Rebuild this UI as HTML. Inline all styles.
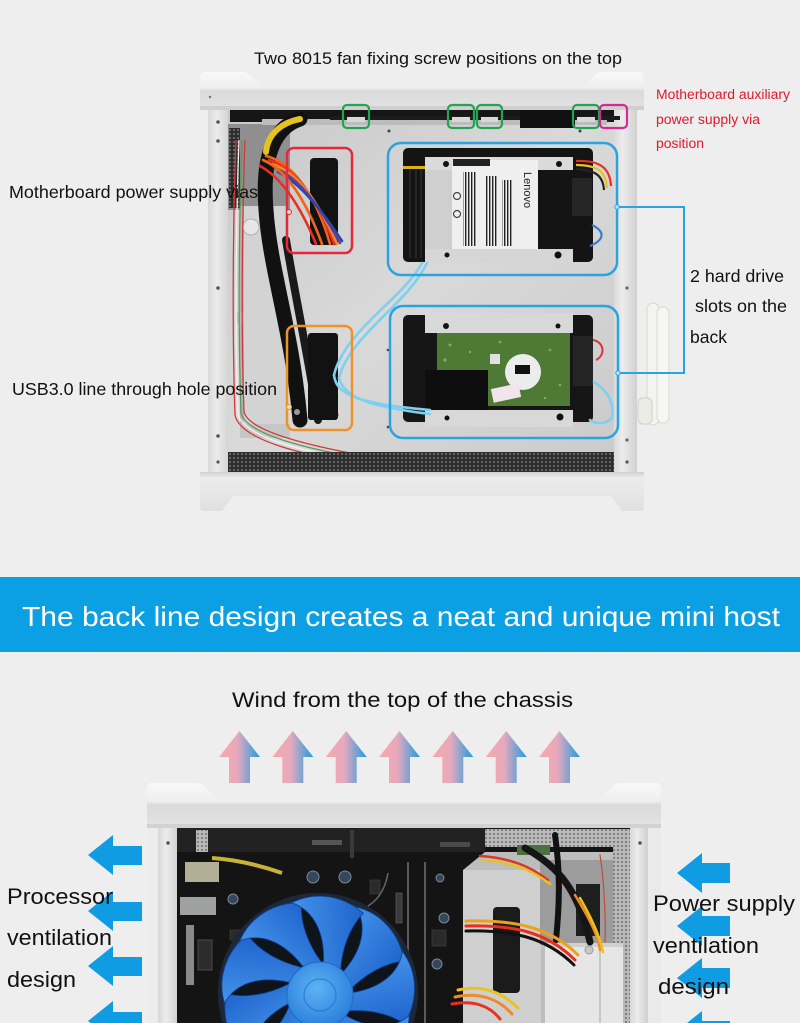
<!DOCTYPE html>
<html><head><meta charset="utf-8">
<style>html,body{margin:0;padding:0;background:#eeeeee;width:800px;height:1023px;overflow:hidden}svg{display:block}</style>
</head>
<body>
<svg width="800" height="1023" viewBox="0 0 800 1023" xmlns="http://www.w3.org/2000/svg" font-family="'Liberation Sans', Arial, sans-serif">
<defs>
  <linearGradient id="upg" x1="0" y1="0" x2="1" y2="0">
    <stop offset="0" stop-color="#f7a9ad"/><stop offset="0.45" stop-color="#e6a9bd"/><stop offset="1" stop-color="#1e9de2"/>
  </linearGradient>
  <linearGradient id="bez" x1="0" y1="0" x2="0" y2="1">
    <stop offset="0" stop-color="#f9f9f9"/><stop offset="0.42" stop-color="#eeeeee"/><stop offset="0.5" stop-color="#dadada"/><stop offset="1" stop-color="#e3e3e3"/>
  </linearGradient>
  <linearGradient id="frame" x1="0" y1="0" x2="1" y2="0">
    <stop offset="0" stop-color="#d8d8d8"/><stop offset="0.4" stop-color="#ececec"/><stop offset="1" stop-color="#d0d0d0"/>
  </linearGradient>
  <linearGradient id="panel" x1="0" y1="0" x2="1" y2="1">
    <stop offset="0" stop-color="#c9c9c9"/><stop offset="0.5" stop-color="#d9d9d9"/><stop offset="1" stop-color="#cbcbcb"/>
  </linearGradient>
  <linearGradient id="bframe" x1="0" y1="0" x2="0" y2="1">
    <stop offset="0" stop-color="#cfcfcf"/><stop offset="0.15" stop-color="#ececec"/><stop offset="1" stop-color="#e0e0e0"/>
  </linearGradient>
  <linearGradient id="redl" x1="0" y1="0" x2="1" y2="0">
    <stop offset="0" stop-color="#e7364a" stop-opacity="0.25"/><stop offset="0.4" stop-color="#e7364a" stop-opacity="0.8"/><stop offset="1" stop-color="#e7364a"/>
  </linearGradient>
  <linearGradient id="orgl" x1="0" y1="0" x2="1" y2="0">
    <stop offset="0" stop-color="#f0922b" stop-opacity="0.35"/><stop offset="0.4" stop-color="#f0922b" stop-opacity="0.85"/><stop offset="1" stop-color="#f0922b"/>
  </linearGradient>
  <linearGradient id="blade" x1="0" y1="0" x2="1" y2="1">
    <stop offset="0" stop-color="#4a9af0"/><stop offset="1" stop-color="#1558c4"/>
  </linearGradient>
  <radialGradient id="hub" cx="0.45" cy="0.4" r="0.6">
    <stop offset="0" stop-color="#5fb2f5"/><stop offset="1" stop-color="#2a80dc"/>
  </radialGradient>
  <pattern id="mesh" width="4" height="4" patternUnits="userSpaceOnUse">
    <rect width="4" height="4" fill="#2e2e2e"/><circle cx="2" cy="2" r="0.9" fill="#8a8a8a"/>
  </pattern>
  <pattern id="meshL" width="4" height="4" patternUnits="userSpaceOnUse">
    <rect width="4" height="4" fill="#b9b9b9"/><circle cx="2" cy="2" r="1" fill="#6e6e6e"/>
  </pattern>
  <pattern id="bar" width="3" height="4" patternUnits="userSpaceOnUse">
    <rect width="3" height="4" fill="#f2f2f2"/><rect width="1.4" height="4" fill="#222"/>
  </pattern>
  <path id="bl" d="M24,-20 C44,-42 50,-66 38,-86 C64,-80 82,-58 86,-32 C66,-30 46,-18 31,-2 Z"/>
  <pattern id="fanp" patternUnits="userSpaceOnUse" x="0" y="0" width="800" height="1200">
    <g transform="translate(318,993)">
      <circle r="100" fill="#1c2838"/>
      <circle r="95" fill="#243347"/>
      <circle r="88" fill="#0f141b"/>
      <g fill="url(#blade)" stroke="#0d3f8f" stroke-width="0.8">
        <use href="#bl" transform="rotate(0)"/><use href="#bl" transform="rotate(40)"/><use href="#bl" transform="rotate(80)"/>
        <use href="#bl" transform="rotate(120)"/><use href="#bl" transform="rotate(160)"/><use href="#bl" transform="rotate(200)"/>
        <use href="#bl" transform="rotate(240)"/><use href="#bl" transform="rotate(280)"/><use href="#bl" transform="rotate(320)"/>
      </g>
      <circle cx="2" cy="2" r="33" fill="url(#hub)" stroke="#1f6cc4" stroke-width="1"/>
      <circle cx="2" cy="2" r="16" fill="none" stroke="#1f72cc" stroke-width="1.5" opacity="0.6"/>
    </g>
  </pattern>
</defs>

<!-- background -->
<rect width="800" height="1023" fill="#eeeeee"/>

<!-- ============ TOP CHASSIS ============ -->
<rect x="208" y="105" width="22" height="370" fill="url(#frame)"/>
<rect x="613" y="105" width="24" height="370" fill="url(#frame)"/>
<circle cx="218" cy="122" r="1.8" fill="#555"/><circle cx="218" cy="141" r="1.8" fill="#555"/>
<circle cx="218" cy="288" r="1.8" fill="#555"/><circle cx="218" cy="436" r="1.8" fill="#555"/>
<circle cx="627" cy="288" r="1.6" fill="#666"/><circle cx="627" cy="440" r="1.6" fill="#666"/>
<rect x="228" y="108" width="386" height="348" fill="url(#panel)"/>
<rect x="228" y="124" width="62" height="86" fill="#8f8f8f"/>
<rect x="229" y="128" width="11" height="80" fill="url(#mesh)"/>
<rect x="240" y="206" width="47" height="222" fill="#d3d3d3"/>
<rect x="240" y="206" width="4" height="222" fill="#b5b5b5"/>
<rect x="236" y="312" width="8" height="12" fill="#c0c0c0"/>
<rect x="240" y="424" width="50" height="14" fill="#c6c6c6"/>
<circle cx="251" cy="227" r="8" fill="#e6e6e6" stroke="#b0b0b0"/>
<rect x="230" y="110" width="384" height="12" fill="#161616"/>
<rect x="262" y="119" width="345" height="6" fill="#bcbcbc"/>
<rect x="330" y="116" width="290" height="4" fill="#1c1c1c"/>
<rect x="520" y="110" width="55" height="18" fill="#111"/>
<rect x="347" y="117" width="18" height="5" fill="#d8d8d8"/>
<rect x="452" y="117" width="18" height="5" fill="#d8d8d8"/>
<rect x="481" y="117" width="17" height="5" fill="#d8d8d8"/>
<rect x="577" y="117" width="18" height="5" fill="#d8d8d8"/>
<circle cx="389" cy="131" r="1.5" fill="#444"/><circle cx="580" cy="131" r="1.5" fill="#444"/>
<circle cx="388" cy="350" r="1.3" fill="#444"/><circle cx="388" cy="427" r="1.3" fill="#444"/>

<g fill="none" stroke-width="1.3">
  <path d="M236,140 C233,220 232,330 235,415 C240,440 300,455 380,468" stroke="#cf3a3a"/>
  <path d="M239,140 C236,220 235,330 238,414 C243,437 302,452 381,465" stroke="#f2f2f2"/>
  <path d="M242,140 C239,220 238,330 241,413 C246,434 304,449 382,462" stroke="#5c9a5c"/>
  <path d="M245,140 C242,220 241,330 244,412 C249,431 306,446 383,459" stroke="#cf3a3a"/>
</g>
<g fill="none" stroke-linecap="round">
  <path d="M300,119 C272,128 262,160 266,210 C270,270 292,330 300,420" stroke="#111" stroke-width="15"/>
  <path d="M286,240 C296,300 306,345 318,420" stroke="#1a1a1a" stroke-width="8"/>
  <path d="M300,119 C284,122 268,132 266,152" stroke="#e6c21e" stroke-width="6"/>
  <path d="M312,350 C318,380 325,400 338,415" stroke="#cc2a2a" stroke-width="1.5"/>
</g>
<rect x="310" y="158" width="28" height="87" rx="4" fill="#121212"/>
<g fill="none" stroke-width="2.6" stroke-linecap="round">
  <path d="M266,156 C292,162 316,195 330,244" stroke="#f2641e"/>
  <path d="M269,160 C295,168 318,200 334,244" stroke="#e8301c"/>
  <path d="M272,164 C298,172 320,205 337,244" stroke="#f08a28"/>
  <path d="M275,168 C300,178 322,210 340,243" stroke="#6a3da0"/>
  <path d="M278,172 C302,184 324,214 342,241" stroke="#2848aa"/>
  <path d="M263,160 C286,170 306,200 322,244" stroke="#f2641e"/>
  <path d="M260,166 C282,178 300,205 316,244" stroke="#e8301c"/>
</g>
<rect x="308" y="333" width="30" height="87" rx="3" fill="#121212"/>
<circle cx="297" cy="412" r="3" fill="#9a9a9a"/>

<!-- SSD -->
<rect x="403" y="148" width="190" height="114" rx="5" fill="#141414"/>
<g stroke="#333" stroke-width="1.2"><line x1="410" y1="170" x2="410" y2="258"/><line x1="416" y1="170" x2="416" y2="258"/><line x1="421" y1="170" x2="421" y2="258"/></g>
<rect x="403" y="166" width="22" height="3" fill="#d8b41a"/>
<rect x="425" y="157" width="148" height="13" fill="#dadada"/>
<rect x="425" y="170" width="28" height="80" fill="#cfcfcf"/>
<rect x="452" y="160" width="86" height="90" fill="#efefef"/>
<rect x="453" y="159" width="37" height="7" fill="#222"/>
<rect x="463" y="172" width="14" height="74" fill="url(#bar)"/>
<rect x="486" y="176" width="12" height="70" fill="url(#bar)"/>
<rect x="502" y="180" width="10" height="66" fill="url(#bar)"/>
<circle cx="457" cy="196" r="3.5" fill="none" stroke="#444" stroke-width="1.2"/>
<circle cx="457" cy="214" r="3.5" fill="none" stroke="#444" stroke-width="1.2"/>
<text x="0" y="0" font-size="11" fill="#222" transform="translate(524,172) rotate(90)">Lenovo</text>
<circle cx="446" cy="164" r="3" fill="#111"/><circle cx="559" cy="164" r="3" fill="#111"/>
<rect x="425" y="249" width="148" height="14" fill="#d6d6d6"/>
<circle cx="447" cy="255" r="2.5" fill="#111"/><circle cx="558" cy="255" r="3.5" fill="#111"/>
<rect x="572" y="178" width="20" height="38" fill="#262626"/>
<g fill="none" stroke-width="2.2">
  <path d="M576,161 C600,160 610,168 611,186" stroke="#e83022"/>
  <path d="M576,165 C598,165 606,172 607,188" stroke="#e8c21e"/>
  <path d="M576,169 C596,170 603,176 604,190" stroke="#222"/>
  <path d="M592,225 C606,232 604,240 590,246" stroke="#3a7ac8"/>
</g>

<!-- HDD -->
<rect x="403" y="315" width="190" height="107" rx="5" fill="#161616"/>
<path d="M437,333 H570 V406 H488 V370 H437 Z" fill="#4e7a36"/>
<g fill="#86a866"><circle cx="450" cy="345" r="1.5"/><circle cx="470" cy="352" r="1.2"/><circle cx="500" cy="342" r="1.4"/><circle cx="550" cy="350" r="1.3"/><circle cx="560" cy="385" r="1.4"/><circle cx="545" cy="398" r="1.2"/><circle cx="445" cy="360" r="1.6"/></g>
<rect x="490" y="354" width="10" height="10" fill="#e0e0e0"/>
<circle cx="523" cy="372" r="18" fill="#ececec"/>
<rect x="515" y="365" width="15" height="9" fill="#111"/>
<rect x="425" y="370" width="63" height="40" fill="#0e0e0e"/>
<rect x="492" y="386" width="28" height="14" fill="#f1e4ec" transform="rotate(-12 506 393)"/>
<rect x="425" y="313" width="148" height="20" fill="#d8d8d8"/>
<circle cx="446" cy="326" r="3" fill="#111"/><circle cx="558" cy="326" r="2.5" fill="#111"/>
<rect x="425" y="410" width="148" height="17" fill="#d8d8d8"/>
<circle cx="447" cy="418" r="2.5" fill="#111"/><circle cx="560" cy="417" r="3.5" fill="#111"/>
<rect x="573" y="336" width="20" height="50" fill="#252525"/>
<path d="M593,340 C604,342 606,355 596,360" fill="none" stroke="#d33" stroke-width="2"/>

<g fill="none" stroke="#7fd0f0" stroke-width="2.6" stroke-linecap="round">
  <path d="M422,263 C402,300 345,330 334,375"/>
  <path d="M427,263 C407,305 350,335 339,378"/>
  <path d="M334,375 C336,396 362,404 430,410"/>
  <path d="M339,378 C344,400 380,408 430,414"/>
  <path d="M594,382 C610,392 614,405 612,418 C605,425 595,424 590,420"/>
</g>

<rect x="228" y="452" width="386" height="21" fill="url(#mesh)"/>
<path d="M200,472 H644 V507 Q644,511 640,511 H622 L611,496 H233 L222,511 H204 Q200,511 200,507 Z" fill="url(#bframe)"/>
<circle cx="218" cy="462" r="1.6" fill="#555"/><circle cx="627" cy="462" r="1.6" fill="#555"/>

<path d="M200,110 V78 Q200,72 206,72 H242 Q248,72 252,77 L262,87 H583 L594,76 Q598,72 604,72 H638 Q644,72 644,78 V110 Z" fill="url(#bez)"/>
<rect x="200" y="106" width="444" height="4" fill="#cfcfcf"/>
<circle cx="210" cy="97" r="1.2" fill="#777"/>

<rect x="647" y="303" width="12" height="122" rx="6" fill="#f3f3ef" stroke="#d6d6d0" stroke-width="1"/>
<rect x="657" y="307" width="12" height="116" rx="6" fill="#f6f6f2" stroke="#d9d9d3" stroke-width="1"/>
<rect x="638" y="398" width="14" height="26" rx="5" fill="#ececE6" stroke="#d0d0ca"/>

<g fill="none" stroke-width="2.2">
  <rect x="343" y="105" width="26" height="23" rx="4" stroke="#22a452"/>
  <rect x="448" y="105" width="26" height="23" rx="4" stroke="#22a452"/>
  <rect x="477" y="105" width="25" height="23" rx="4" stroke="#22a452"/>
  <rect x="573" y="105" width="26" height="23" rx="4" stroke="#22a452"/>
  <rect x="600" y="105" width="27" height="23" rx="4" stroke="#d42a98"/>
  <rect x="287" y="148" width="65" height="105" rx="7" stroke="#e5283a" stroke-width="2.5"/>
  <rect x="287" y="326" width="65" height="104" rx="7" stroke="#f0922b" stroke-width="2.5"/>
  <rect x="388" y="143" width="229" height="132" rx="13" stroke="#2ba3df" stroke-width="2.5"/>
  <rect x="390" y="306" width="228" height="132" rx="13" stroke="#2ba3df" stroke-width="2.5"/>
</g>
<line x1="79" y1="212" x2="288" y2="212" stroke="url(#redl)" stroke-width="2"/>
<circle cx="289" cy="212" r="2.5" fill="#f3d0d4" stroke="#e5283a" stroke-width="1"/>
<line x1="79" y1="407" x2="288" y2="407" stroke="url(#orgl)" stroke-width="2"/>
<circle cx="289" cy="407" r="2.5" fill="#f8e2c8" stroke="#f0922b" stroke-width="1"/>
<polyline points="617,207 684,207 684,373 618,373" fill="none" stroke="#2ba3df" stroke-width="2"/>
<circle cx="617" cy="207" r="2.2" fill="#bfe6f7" stroke="#2ba3df"/>
<circle cx="618" cy="373" r="2.2" fill="#bfe6f7" stroke="#2ba3df"/>

<text x="254" y="64" font-size="17" fill="#111" textLength="368" lengthAdjust="spacingAndGlyphs">Two 8015 fan fixing screw positions on the top</text>
<text x="656" y="99" font-size="13.5" fill="#e0182d" textLength="134" lengthAdjust="spacingAndGlyphs">Motherboard auxiliary</text>
<text x="656" y="124" font-size="13.5" fill="#e0182d" textLength="104" lengthAdjust="spacingAndGlyphs">power supply via</text>
<text x="656" y="148" font-size="13.5" fill="#e0182d" textLength="48" lengthAdjust="spacingAndGlyphs">position</text>
<text x="9" y="198" font-size="17.5" fill="#111" textLength="249" lengthAdjust="spacingAndGlyphs">Motherboard power supply vias</text>
<text x="12" y="395" font-size="17.5" fill="#111" textLength="265" lengthAdjust="spacingAndGlyphs">USB3.0 line through hole position</text>
<text x="690" y="282" font-size="17.5" fill="#111" textLength="94" lengthAdjust="spacingAndGlyphs">2 hard drive</text>
<text x="695" y="312" font-size="17.5" fill="#111" textLength="92" lengthAdjust="spacingAndGlyphs">slots on the</text>
<text x="690" y="343" font-size="17.5" fill="#111" textLength="37" lengthAdjust="spacingAndGlyphs">back</text>

<!-- ============ BANNER ============ -->
<rect x="0" y="577" width="800" height="75" fill="#0ba0e4"/>
<text x="22" y="626" font-size="28" fill="#ffffff" textLength="758" lengthAdjust="spacingAndGlyphs">The back line design creates a neat and unique mini host</text>

<!-- ============ BOTTOM SECTION ============ -->
<text x="232" y="707" font-size="21" fill="#111" textLength="341" lengthAdjust="spacingAndGlyphs">Wind from the top of the chassis</text>

<g fill="url(#upg)">
  <polygon points="239.5,731 260,757 250,757 250,783 229,783 229,757 219,757"/>
  <polygon points="292.8,731 313.3,757 303.3,757 303.3,783 282.3,783 282.3,757 272.3,757"/>
  <polygon points="346.2,731 366.7,757 356.7,757 356.7,783 335.7,783 335.7,757 325.7,757"/>
  <polygon points="399.5,731 420,757 410,757 410,783 389,783 389,757 379,757"/>
  <polygon points="452.8,731 473.3,757 463.3,757 463.3,783 442.3,783 442.3,757 432.3,757"/>
  <polygon points="506.2,731 526.7,757 516.7,757 516.7,783 495.7,783 495.7,757 485.7,757"/>
  <polygon points="559.5,731 580,757 570,757 570,783 549,783 549,757 539,757"/>
</g>

<rect x="147" y="820" width="12" height="203" fill="#ececec"/>
<rect x="158" y="820" width="20" height="203" fill="url(#frame)"/>
<rect x="630" y="820" width="18" height="203" fill="url(#frame)"/>
<rect x="648" y="820" width="13" height="203" fill="#eaeaea"/>
<circle cx="168" cy="843" r="1.8" fill="#555"/><circle cx="640" cy="843" r="1.8" fill="#555"/>
<rect x="177" y="827" width="453" height="196" fill="#141414"/>
<rect x="177" y="828" width="308" height="24" fill="#222"/>
<rect x="312" y="840" width="30" height="5" fill="#555"/><rect x="440" y="842" width="30" height="5" fill="#4a4a4a"/>
<rect x="350" y="830" width="4" height="28" fill="#3a3a3a"/>
<rect x="196" y="830" width="12" height="22" fill="url(#meshL)"/>
<path d="M212,858 C240,860 262,866 282,873" fill="none" stroke="#c9b23a" stroke-width="4"/>
<rect x="185" y="862" width="34" height="20" fill="#b3ae96"/>
<rect x="180" y="897" width="36" height="18" fill="#9fa0a0"/>
<rect x="186" y="925" width="8" height="60" fill="#8a8a8a"/>
<rect x="198" y="940" width="14" height="30" fill="#2c2c2c" stroke="#555" stroke-width="0.8"/>
<g fill="#36475a" stroke="#7a8898" stroke-width="1">
  <circle cx="313" cy="877" r="6"/><circle cx="345" cy="877" r="6"/><circle cx="233" cy="899" r="5"/>
  <circle cx="444" cy="918" r="5"/><circle cx="437" cy="964" r="5"/><circle cx="440" cy="878" r="4"/>
</g>
<g fill="#2a2a2a" stroke="#444" stroke-width="0.6">
  <rect x="370" y="880" width="10" height="14"/><rect x="230" y="930" width="18" height="10"/><rect x="432" y="930" width="14" height="16"/>
</g>
<path d="M388,873 C385,890 378,900 368,906" fill="none" stroke="#666" stroke-width="1.5"/>
<line x1="408" y1="862" x2="408" y2="1023" stroke="#5a5a5a" stroke-width="2"/>
<line x1="425" y1="862" x2="425" y2="1023" stroke="#5a5a5a" stroke-width="2"/>
<rect x="396" y="893" width="6" height="30" fill="#3a3a3a" stroke="#666" stroke-width="0.6"/>

<rect x="485" y="829" width="128" height="18" fill="url(#meshL)"/>
<rect x="613" y="829" width="17" height="194" fill="url(#meshL)"/>
<path d="M463,870 L485,852 H613 V1023 H463 Z" fill="#bdbdbd"/>
<rect x="463" y="870" width="78" height="153" fill="#cfcfcf"/>
<rect x="493" y="907" width="27" height="86" rx="4" fill="#1b1b1b"/>
<rect x="540" y="860" width="73" height="85" fill="#9c9c9c"/>
<rect x="576" y="884" width="24" height="52" fill="#1e1e1e"/>
<rect x="517" y="845" width="33" height="10" fill="#4c7040"/>
<rect x="545" y="943" width="78" height="80" fill="#e6e6e6"/>
<rect x="545" y="943" width="78" height="4" fill="#d0d0d0"/>
<line x1="600" y1="945" x2="600" y2="1023" stroke="#bdbdbd" stroke-width="1.5"/>
<circle cx="589" cy="950" r="4" fill="#c8c8c8" stroke="#999"/>
<circle cx="563" cy="950" r="1.5" fill="#777"/>
<g fill="none" stroke-linecap="round">
  <path d="M525,848 C560,868 578,890 590,942" stroke="#151515" stroke-width="7"/>
  <path d="M555,835 C560,870 560,900 556,940" stroke="#111" stroke-width="6"/>
  <path d="M480,856 C510,858 530,866 548,880" stroke="#d8392a" stroke-width="2.5"/>
  <path d="M482,860 C512,862 532,870 550,884" stroke="#e8c21e" stroke-width="2.5"/>
  <path d="M466,926 C510,925 545,930 575,960" stroke="#e8301c" stroke-width="3"/>
  <path d="M466,931 C510,930 545,936 574,965" stroke="#111" stroke-width="3"/>
  <path d="M466,921 C510,920 548,925 578,955" stroke="#e8a21e" stroke-width="3"/>
  <path d="M575,895 C590,920 598,935 600,950" stroke="#f08a28" stroke-width="2.5"/>
  <path d="M580,898 C594,922 600,938 603,952" stroke="#e8c21e" stroke-width="2.5"/>
  <path d="M458,990 C480,985 500,990 518,1008" stroke="#e8c21e" stroke-width="3"/>
  <path d="M455,997 C478,992 498,998 512,1014" stroke="#f08a28" stroke-width="3"/>
  <path d="M452,1004 C474,1000 490,1006 500,1019" stroke="#e8301c" stroke-width="3"/>
  <path d="M600,855 C604,880 606,920 605,942" stroke="#c84a3a" stroke-width="1.2"/>
</g>

<!-- fan (pattern-filled rect, stays inside frame) -->
<rect x="216" y="891" width="205" height="132" fill="url(#fanp)"/>

<path d="M147,827 V788 Q147,783 152,783 H197 Q202,783 206,788 L217,800 H599 L612,787 Q616,783 621,783 H656 Q661,783 661,788 V827 Z" fill="url(#bez)"/>
<rect x="147" y="824" width="514" height="4" fill="#d2d2d2"/>

<g fill="#0f9ce3">
  <polygon points="88,855 113,835 113,846 142,846 142,865 113,865 113,875"/>
  <polygon points="88,911 113,891 113,902 142,902 142,921 113,921 113,931"/>
  <polygon points="88,966 113,946 113,957 142,957 142,976 113,976 113,986"/>
  <polygon points="88,1021 113,1001 113,1012 142,1012 142,1023 90.5,1023"/>
  <polygon points="677,873 702,853 702,863 730,863 730,883 702,883 702,893"/>
  <polygon points="677,926 702,906 702,916 730,916 730,936 702,936 702,946"/>
  <polygon points="677,978 702,958 702,968 730,968 730,988 702,988 702,998"/>
  <polygon points="687,1023 702,1011 702,1021 730,1021 730,1023"/>
</g>

<text x="7" y="904" font-size="22" fill="#111" textLength="106" lengthAdjust="spacingAndGlyphs">Processor</text>
<text x="7" y="945" font-size="22" fill="#111" textLength="105" lengthAdjust="spacingAndGlyphs">ventilation</text>
<text x="7" y="987" font-size="22" fill="#111" textLength="69" lengthAdjust="spacingAndGlyphs">design</text>
<text x="653" y="911" font-size="22" fill="#111" textLength="142" lengthAdjust="spacingAndGlyphs">Power supply</text>
<text x="653" y="953" font-size="22" fill="#111" textLength="106" lengthAdjust="spacingAndGlyphs">ventilation</text>
<text x="658" y="994" font-size="22" fill="#111" textLength="71" lengthAdjust="spacingAndGlyphs">design</text>
</svg>
</body>
</html>
